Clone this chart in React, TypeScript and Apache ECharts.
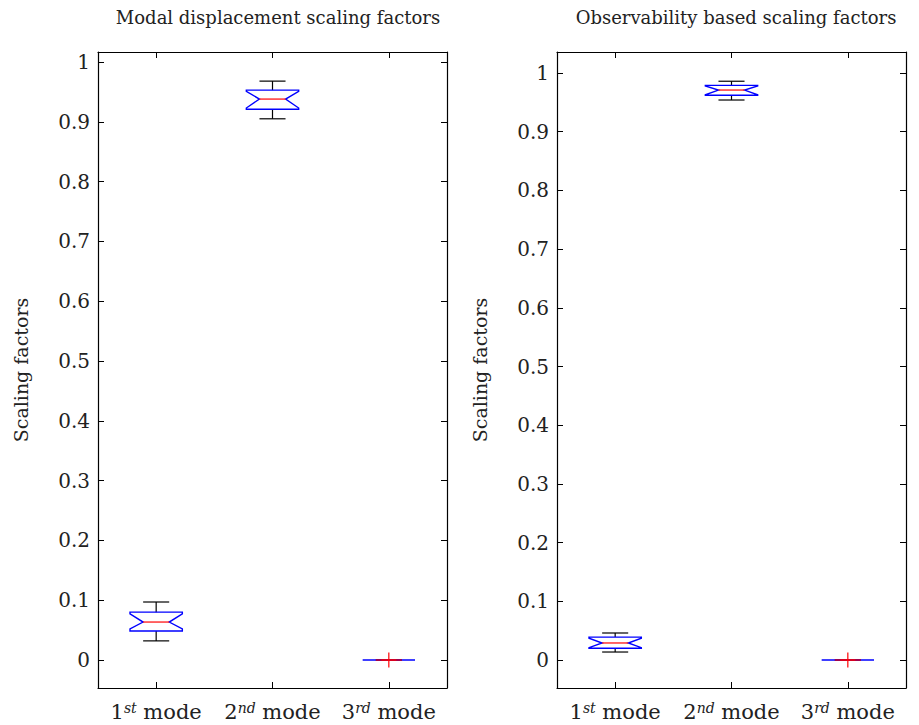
import React, { useEffect, useRef } from "react";
import * as echarts from "echarts";

// ---- data ----
const categories = ["1", "2", "3"];
const ordinalSuffix = ["st", "nd", "rd"];
const yTicks = [0, 0.1, 0.2, 0.3, 0.4, 0.5, 0.6, 0.7, 0.8, 0.9, 1];

// [lower whisker, Q1, median, Q3, upper whisker]
const modalStats = [
  [0.032, 0.0485, 0.0635, 0.08, 0.097],
  [0.905, 0.921, 0.938, 0.953, 0.968],
  [0, 0, 0, 0, 0],
];
const modalNotch = [
  [0.052, 0.077],
  [0.923, 0.951],
  [0, 0],
];
const modalOutliers = [[2, 0]];

const obsStats = [
  [0.0136, 0.02, 0.029, 0.039, 0.046],
  [0.954, 0.962, 0.971, 0.979, 0.986],
  [0, 0, 0, 0, 0],
];
const obsNotch = [
  [0.021, 0.037],
  [0.963, 0.978],
  [0, 0],
];
const obsOutliers = [[2, 0]];

const titles = ["Modal displacement scaling factors", "Observability based scaling factors"];
const yName = "Scaling factors";
const leftRange = [-0.0468, 1.0167];
const rightRange = [-0.0477, 1.0358];

const FONT = "DejaVu Serif";
const TXT = "#222";

function boxData(stats: number[][], notch: number[][]) {
  return stats.map((s, i) => [i, ...s, notch[i][0], notch[i][1]]);
}

function renderBox(params: any, api: any) {
  const x = api.value(0);
  const lw = api.value(1);
  const q1 = api.value(2);
  const med = api.value(3);
  const q3 = api.value(4);
  const uw = api.value(5);
  const nLo = api.value(6);
  const nHi = api.value(7);
  const bw = api.size([1, 0])[0];
  const cx = api.coord([x, 0])[0];
  const y = (v: number) => api.coord([x, v])[1];
  const half = bw * 0.225;
  const capHalf = bw * 0.112;
  const nHalf = half * 0.5;
  const L = cx - half;
  const R = cx + half;
  const black = { stroke: "#000", lineWidth: 1.2 };
  const children: any[] = [
    { type: "line", shape: { x1: cx, y1: y(uw), x2: cx, y2: y(q3) }, style: black },
    { type: "line", shape: { x1: cx, y1: y(q1), x2: cx, y2: y(lw) }, style: black },
    { type: "line", shape: { x1: cx - capHalf, y1: y(uw), x2: cx + capHalf, y2: y(uw) }, style: black },
    { type: "line", shape: { x1: cx - capHalf, y1: y(lw), x2: cx + capHalf, y2: y(lw) }, style: black },
    {
      type: "polygon",
      shape: {
        points: [
          [L, y(q3)],
          [R, y(q3)],
          [R, y(nHi)],
          [cx + nHalf, y(med)],
          [R, y(nLo)],
          [R, y(q1)],
          [L, y(q1)],
          [L, y(nLo)],
          [cx - nHalf, y(med)],
          [L, y(nHi)],
        ],
      },
      style: { fill: "none", stroke: "#0000ff", lineWidth: 1.4 },
    },
    {
      type: "line",
      shape: { x1: cx - nHalf, y1: y(med), x2: cx + nHalf, y2: y(med) },
      style: { stroke: "#ff0000", lineWidth: 1.2 },
    },
  ];
  return { type: "group", children };
}

function renderPlus(params: any, api: any) {
  const p = api.coord([api.value(0), api.value(1)]);
  const s = 7.5;
  return {
    type: "group",
    children: [
      { type: "line", shape: { x1: p[0], y1: p[1] - s, x2: p[0], y2: p[1] + s }, style: { stroke: "#ff0000", lineWidth: 1.2 } },
      { type: "line", shape: { x1: p[0] - s, y1: p[1], x2: p[0] + s, y2: p[1] }, style: { stroke: "#ff0000", lineWidth: 1.2 } },
    ],
  };
}

function fmtTick(v: number) {
  if (Math.abs(v) < 1e-9) return "0";
  if (Math.abs(v - 1) < 1e-9) return "1";
  return v.toFixed(1);
}

const xLabelRich = {
  n: { fontSize: 21, fontFamily: FONT, color: TXT },
  s: { fontSize: 14, fontFamily: FONT, fontStyle: "italic" as const, color: TXT, verticalAlign: "top" as const },
};

function xAxes(gridIndex: number) {
  const base = {
    type: "category" as const,
    gridIndex,
    data: categories,
    boundaryGap: true,
    axisLine: { show: true, onZero: false, lineStyle: { color: "#000", width: 1.2 } },
    axisTick: { show: true, inside: true, alignWithLabel: true, interval: 0, length: 6, lineStyle: { color: "#000" } },
    splitLine: { show: false },
  };
  return [
    {
      ...base,
      position: "bottom" as const,
      axisLabel: {
        show: true,
        interval: 0,
        hideOverlap: false,
        margin: 13,
        formatter: (v: string, i: number) => `{n|${v}}{s|${ordinalSuffix[i]}}{n| mode}`,
        rich: xLabelRich,
      },
    },
    { ...base, position: "top" as const, axisLabel: { show: false } },
  ];
}

function yAxes(gridIndex: number, range: number[]) {
  const base = {
    type: "value" as const,
    gridIndex,
    min: range[0],
    max: range[1],
    axisLine: { show: true, onZero: false, lineStyle: { color: "#000", width: 1.2 } },
    axisTick: { show: true, inside: true, length: 6, customValues: yTicks, lineStyle: { color: "#000" } },
    splitLine: { show: false },
  };
  return [
    {
      ...base,
      position: "left" as const,
      name: yName,
      nameLocation: "middle" as const,
      nameRotate: 90,
      nameGap: 68,
      nameTextStyle: { fontFamily: FONT, fontSize: 19, color: TXT },
      axisLabel: {
        show: true,
        customValues: yTicks,
        margin: 8,
        formatter: (v: number) => fmtTick(v),
        fontFamily: FONT,
        fontSize: 20,
        color: TXT,
      },
    },
    { ...base, position: "right" as const, name: "", axisLabel: { show: false } },
  ];
}

export default function App() {
  const ref = useRef<HTMLDivElement>(null);
  useEffect(() => {
    if (!ref.current) return;
    const chart = echarts.init(ref.current, undefined, { renderer: "svg" });
    const option: any = {
      animation: false,
      backgroundColor: "#fff",
      title: [
        {
          text: titles[0],
          left: 273,
          top: 3,
          textAlign: "center",
          textStyle: { fontFamily: FONT, fontSize: 18, fontWeight: "normal", color: TXT },
        },
        {
          text: titles[1],
          left: 731,
          top: 3,
          textAlign: "center",
          textStyle: { fontFamily: FONT, fontSize: 18, fontWeight: "normal", color: TXT },
        },
      ],
      grid: [
        { left: 98, top: 52, width: 349, height: 636 },
        { left: 557, top: 52, width: 349, height: 636 },
      ],
      xAxis: [...xAxes(0), ...xAxes(1)],
      yAxis: [...yAxes(0, leftRange), ...yAxes(1, rightRange)],
      series: [
        {
          type: "custom",
          xAxisIndex: 0,
          yAxisIndex: 0,
          renderItem: renderBox,
          encode: { x: 0, y: [1, 2, 3, 4, 5] },
          data: boxData(modalStats, modalNotch),
          silent: true,
        },
        {
          type: "custom",
          xAxisIndex: 0,
          yAxisIndex: 0,
          renderItem: renderPlus,
          encode: { x: 0, y: 1 },
          data: modalOutliers,
          silent: true,
        },
        {
          type: "custom",
          xAxisIndex: 2,
          yAxisIndex: 2,
          renderItem: renderBox,
          encode: { x: 0, y: [1, 2, 3, 4, 5] },
          data: boxData(obsStats, obsNotch),
          silent: true,
        },
        {
          type: "custom",
          xAxisIndex: 2,
          yAxisIndex: 2,
          renderItem: renderPlus,
          encode: { x: 0, y: 1 },
          data: obsOutliers,
          silent: true,
        },
      ],
    };
    chart.setOption(option);
    return () => chart.dispose();
  }, []);
  return (
    <div
      ref={ref}
      style={{ position: "fixed", left: 0, top: 0, width: 919, height: 725, background: "#fff" }}
    />
  );
}
